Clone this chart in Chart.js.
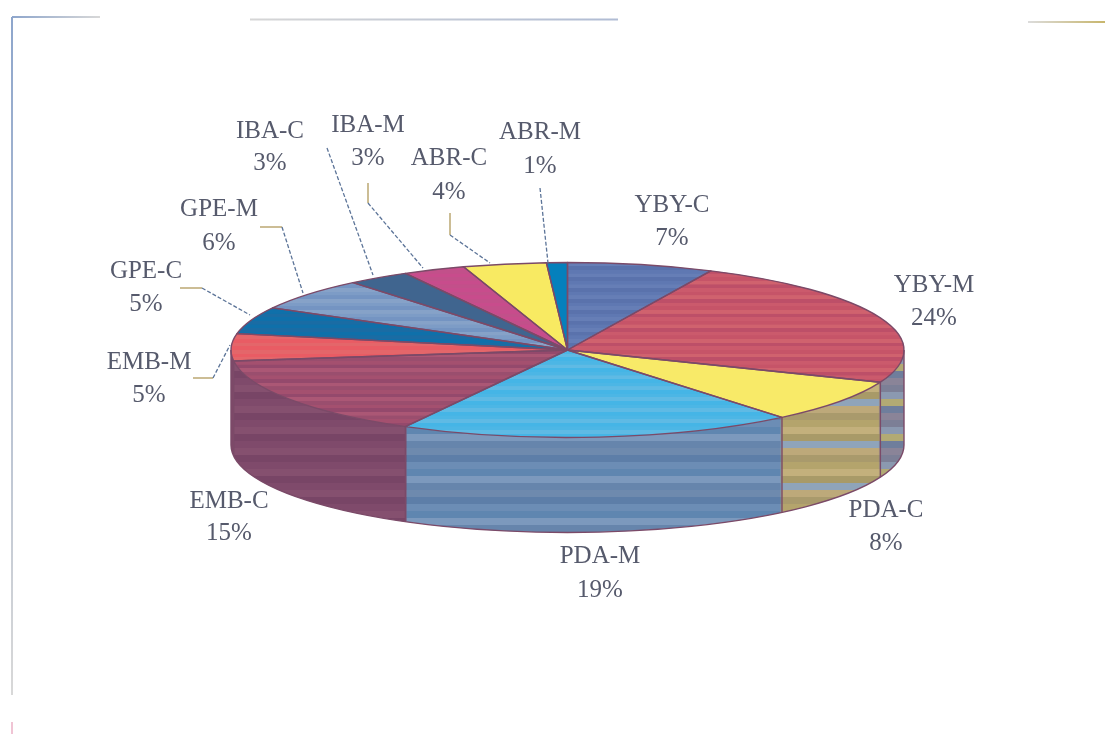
<!DOCTYPE html>
<html>
<head>
<meta charset="utf-8">
<title>Share by site</title>
<style>
  html, body { margin: 0; padding: 0; background: #fff; }
  #pie { display: block; }
</style>
<script src="https://cdn.jsdelivr.net/npm/chart.js@4"></script>
</head>
<body>
<canvas id="pie" width="1105" height="734"></canvas>
<script>
const sites = ["YBY-C", "YBY-M", "PDA-C", "PDA-M", "EMB-C", "EMB-M", "GPE-C", "GPE-M", "IBA-C", "IBA-M", "ABR-C", "ABR-M"];
const shares = [7, 24, 8, 19, 15, 5, 5, 6, 3, 3, 4, 1];

// top face colours, one list of tones per slice (several tones = horizontal bands)
const topTones = [
  ["#5f78b2", "#667eb6", "#5a72ac"],
  ["#cb5a6c", "#c65468", "#d0626e", "#bd4f68"],
  ["#f8ea68"],
  ["#45b5e6", "#4cb6e5", "#5fbae4"],
  ["#a4506f", "#94496c", "#ab5775", "#9a4e6e"],
  ["#e95c64", "#e4666a"],
  ["#0f70aa", "#1a6ca4"],
  ["#7d9cc6", "#7494c2", "#86a2c8"],
  ["#40658f"],
  ["#c84c8c", "#c2508a"],
  ["#f8ea62"],
  ["#0580bc"],
];

// side wall colours, banded across the page
const sideTones = [
  ["#5f78b2"],
  ["#7c7f96", "#8b99b0", "#b2aa74", "#6f7e9c", "#8a8498"],
  ["#b4a46c", "#c3b07c", "#a89a68", "#8fa4ba", "#bda97a", "#a99a6c"],
  ["#6c8db5", "#5f86b0", "#7c99bd", "#6685ac", "#6e8aae", "#5d7ea8"],
  ["#7f4a6b", "#85506f", "#784566"],
  ["#7f4a6b"],
  ["#0f70aa"],
  ["#7d9cc6"],
  ["#40658f"],
  ["#c84c8c"],
  ["#f8ea62"],
  ["#0580bc"],
];

// label centres as [x, name line y, value line y]
const labelSpots = [
  [672, 205, 238], [934, 285, 318], [886, 510, 543], [600, 556, 590],
  [229, 501, 533], [149, 362, 395], [146, 271, 304], [219, 209, 243],
  [270, 131, 163], [368, 125, 158], [449, 158, 192], [540, 132, 166],
];

// leader lines: first segment is the tan elbow, the rest the dotted run to the rim
const leaders = [
  [[260, 227], [282, 227], [303, 293]],
  [[180, 288], [202, 288], [250, 315]],
  [[193, 378], [213, 378], [230, 345]],
  [[327, 148], [327, 148], [373, 275]],
  [[368, 183], [368, 203], [423, 268]],
  [[450, 213], [450, 235], [490, 263]],
  [[540, 188], [540, 188], [548, 263]],
];

// scan-edge rules around the page
const frameLines = [
  [12, 17, 100, 17, "#8ea6cc", "#d8d8d8"],
  [12, 17, 12, 695, "#8ea6cc", "#d8d8d8"],
  [12, 722, 12, 734, "#f0c4d4", "#f0c4d4"],
  [250, 19.5, 618, 19.5, "#d6d6d6", "#b0bcd4"],
  [1028, 22, 1105, 22, "#dcdcdc", "#c8b66c"],
];

const squash = 0.26; // height of the ellipse against its width
const depth = 95;
const lineColor = "#7b4a68";

// repeating horizontal bands of the given height
function bands(tones, h) {
  if (tones.length === 1) return tones[0];
  const c = document.createElement("canvas");
  c.width = 4;
  c.height = h * tones.length;
  const g = c.getContext("2d");
  tones.forEach((t, i) => {
    g.fillStyle = t;
    g.fillRect(0, i * h, 4, h);
  });
  return g.createPattern(c, "repeat");
}

const sideFills = sideTones.map((t) => bands(t, 7));

function sector(ctx, arc, cy) {
  const r = arc.outerRadius;
  ctx.beginPath();
  ctx.moveTo(arc.x, cy);
  ctx.ellipse(arc.x, cy, r, r * squash, 0, arc.startAngle, arc.endAngle);
  ctx.closePath();
}

// extrudes the flat pie: side walls below, squashed top, outlines on top of it
const tiltedPie = {
  id: "tiltedPie",
  beforeDatasetsDraw(chart) {
    const ctx = chart.ctx;
    const arcs = chart.getDatasetMeta(0).data;
    const cx = arcs[0].x, cy = arcs[0].y;
    for (let d = depth; d > 0; d--) {
      arcs.forEach((arc, i) => {
        ctx.fillStyle = sideFills[i];
        sector(ctx, arc, cy + d);
        ctx.fill();
      });
    }
    ctx.save();
    ctx.translate(cx, cy);
    ctx.scale(1, squash);
    ctx.translate(-cx, -cy);
  },
  afterDatasetsDraw(chart) {
    const ctx = chart.ctx;
    ctx.restore();
    const arcs = chart.getDatasetMeta(0).data;
    const cx = arcs[0].x, cy = arcs[0].y, r = arcs[0].outerRadius;
    ctx.save();
    ctx.strokeStyle = lineColor;
    ctx.lineWidth = 1.4;
    ctx.lineJoin = "round";
    arcs.forEach((arc) => {
      sector(ctx, arc, cy);
      ctx.stroke();
      // wall edge where a slice boundary sits on the front half
      const a = arc.startAngle;
      if (Math.sin(a) > 0) {
        const x = cx + r * Math.cos(a);
        const y = cy + r * squash * Math.sin(a);
        ctx.beginPath();
        ctx.moveTo(x, y);
        ctx.lineTo(x, y + depth);
        ctx.stroke();
      }
    });
    ctx.beginPath();
    ctx.moveTo(cx + r, cy);
    ctx.lineTo(cx + r, cy + depth);
    ctx.ellipse(cx, cy + depth, r, r * squash, 0, 0, Math.PI);
    ctx.lineTo(cx - r, cy);
    ctx.stroke();
    ctx.restore();
  },
  afterDraw(chart) {
    const ctx = chart.ctx;
    ctx.save();

    frameLines.forEach(([x0, y0, x1, y1, c0, c1]) => {
      const g = ctx.createLinearGradient(x0, y0, x1, y1);
      g.addColorStop(0, c0);
      g.addColorStop(1, c1);
      ctx.strokeStyle = g;
      ctx.lineWidth = 2;
      ctx.beginPath();
      ctx.moveTo(x0, y0);
      ctx.lineTo(x1, y1);
      ctx.stroke();
    });

    ctx.lineWidth = 1.3;
    leaders.forEach(([a, b, c]) => {
      ctx.setLineDash([]);
      ctx.strokeStyle = "#b09a5c";
      ctx.beginPath();
      ctx.moveTo(a[0], a[1]);
      ctx.lineTo(b[0], b[1]);
      ctx.stroke();
      ctx.setLineDash([4, 2]);
      ctx.strokeStyle = "#5c7498";
      ctx.beginPath();
      ctx.moveTo(b[0], b[1]);
      ctx.lineTo(c[0], c[1]);
      ctx.stroke();
    });
    ctx.setLineDash([]);

    ctx.font = '25px "Liberation Serif"';
    ctx.fillStyle = "#565a6c";
    ctx.textAlign = "center";
    ctx.textBaseline = "middle";
    sites.forEach((site, i) => {
      const [x, y0, y1] = labelSpots[i];
      ctx.fillText(site, x, y0);
      ctx.fillText(shares[i] + "%", x, y1);
    });
    ctx.restore();
  },
};

const pieChart = new Chart(document.getElementById("pie"), {
  type: "pie",
  data: {
    labels: sites,
    datasets: [
      {
        data: shares,
        // tall bands, the top face gets squashed to about a quarter
        backgroundColor: topTones.map((t) => bands(t, 14)),
        borderWidth: 0,
      },
    ],
  },
  options: {
    responsive: false,
    animation: false,
    // puts the pie's centre and radius where the ellipse belongs
    layout: { padding: { left: 231, right: 201, top: 13, bottom: 47 } },
    plugins: {
      legend: { display: false },
      tooltip: { enabled: false },
    },
  },
  plugins: [tiltedPie],
});
</script>
</body>
</html>
